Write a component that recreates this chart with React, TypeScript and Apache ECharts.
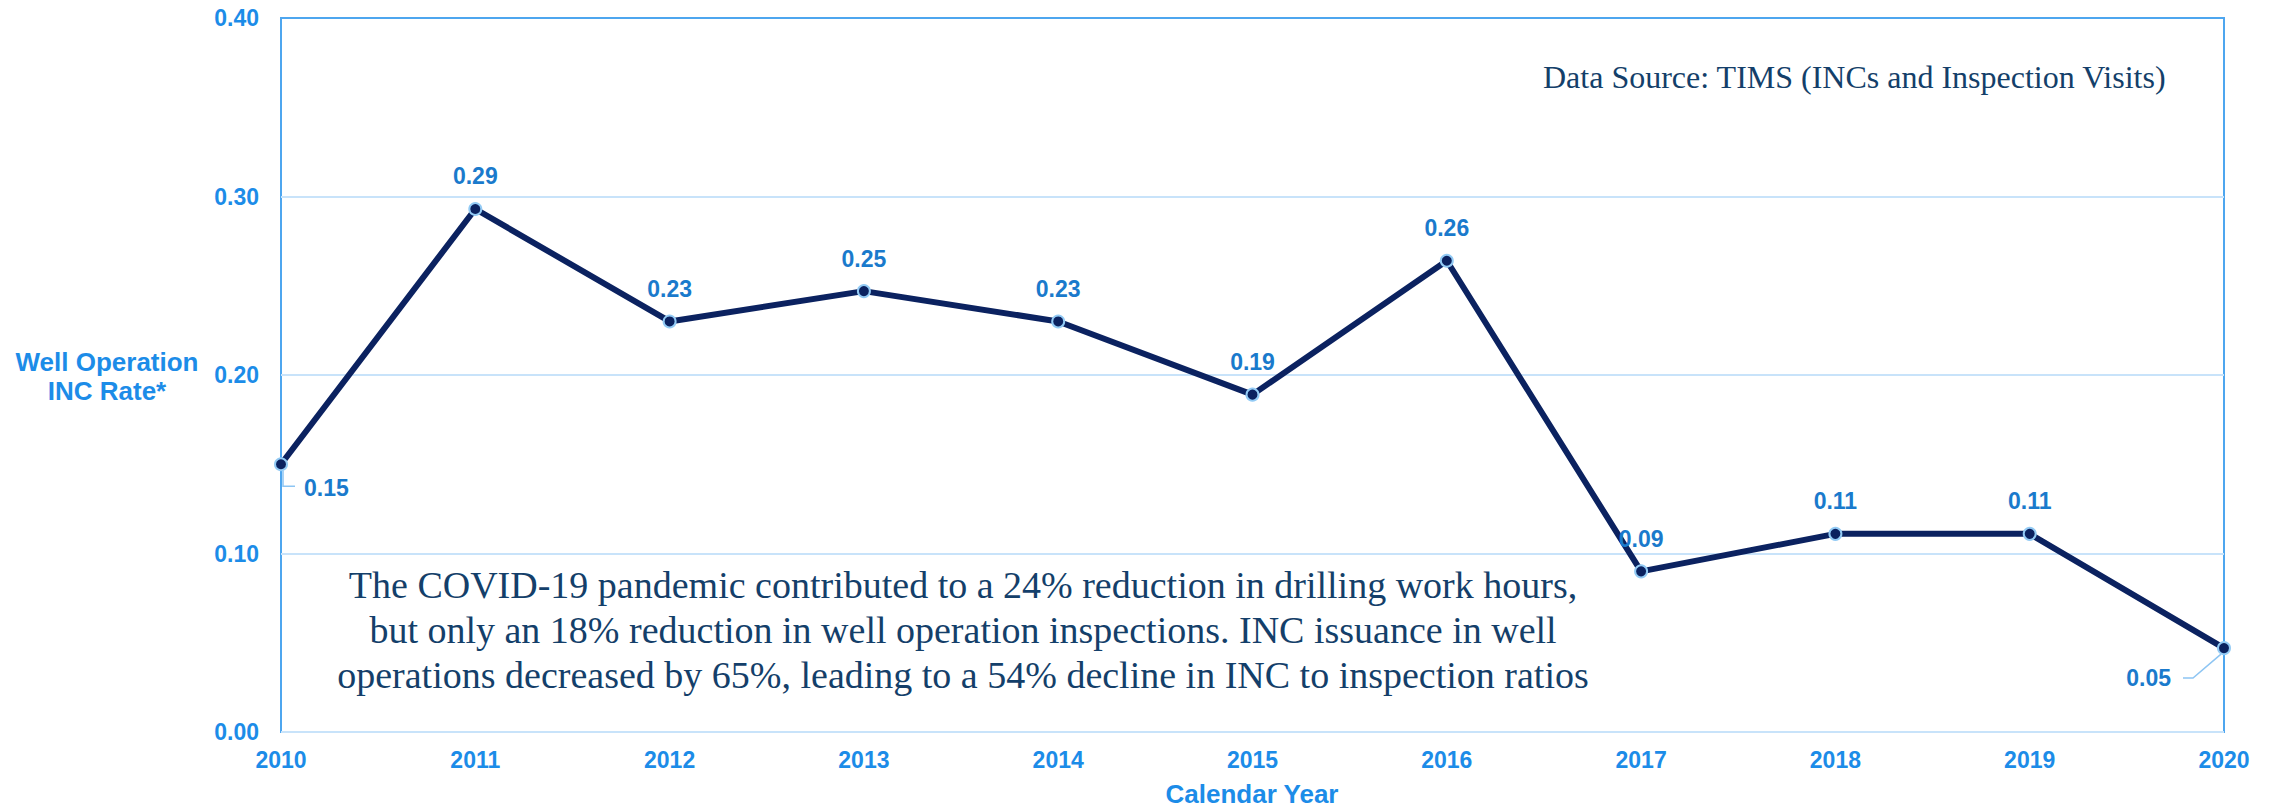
import React, { useEffect, useRef } from 'react';
import * as echarts from 'echarts';

const years = ['2010', '2011', '2012', '2013', '2014', '2015', '2016', '2017', '2018', '2019', '2020'];
const incRate = [0.150, 0.293, 0.230, 0.247, 0.230, 0.189, 0.264, 0.090, 0.111, 0.111, 0.047];
const yAxisTitle = ['Well Operation', 'INC Rate*'];
const xAxisTitle = 'Calendar Year';
const sourceNote = 'Data Source: TIMS (INCs and Inspection Visits)';
const covidNote = [
  'The COVID-19 pandemic contributed to a 24% reduction in drilling work hours,',
  'but only an 18% reduction in well operation inspections. INC issuance in well',
  'operations decreased by 65%, leading to a 54% decline in INC to inspection ratios',
];

const AXIS_BLUE = '#1c8ce8';
const LABEL_BLUE = '#1a7acc';
const NAVY = '#0b2260';
const NOTE_COLOR = '#143f6a';
const GUIDE = '#8dc5f3';
const SANS = '"Liberation Sans", Arial, sans-serif';
const SERIF = '"Liberation Serif", "Times New Roman", serif';

export default function App() {
  const ref = useRef<HTMLDivElement>(null);

  useEffect(() => {
    if (!ref.current) return;
    const chart = echarts.init(ref.current, undefined, { renderer: 'svg' });
    const last = incRate.length - 1;
    const seriesData = incRate.map((v, i) => {
      if (i === 0) return { value: v, label: { position: 'right', offset: [2, 24] } };
      if (i === last) return { value: v, label: { position: 'left', offset: [-32, 30] } };
      return v;
    });

    const baseGraphic = [
      {
        id: 'ytitle', type: 'text', x: 107, y: 376,
        style: {
          text: yAxisTitle.join('\n'), fill: AXIS_BLUE,
          font: `bold 26px ${SANS}`, align: 'center', verticalAlign: 'middle', lineHeight: 29,
        },
      },
      {
        id: 'xtitle', type: 'text', x: 1252, y: 794,
        style: {
          text: xAxisTitle, fill: AXIS_BLUE,
          font: `bold 26px ${SANS}`, align: 'center', verticalAlign: 'middle',
        },
      },
      {
        id: 'source', type: 'text', x: 1543, y: 77,
        style: {
          text: sourceNote, fill: NOTE_COLOR,
          font: `32px ${SERIF}`, align: 'left', verticalAlign: 'middle',
        },
      },
      {
        id: 'note', type: 'text', x: 963, y: 630,
        style: {
          text: covidNote.join('\n'), fill: NOTE_COLOR,
          font: `38px ${SERIF}`, align: 'center', verticalAlign: 'middle', lineHeight: 45,
        },
      },
    ];

    chart.setOption({
      animation: false,
      grid: {
        left: 281, right: 51, top: 18, bottom: 77,
        show: true, borderColor: '#4ea6ef', borderWidth: 2, backgroundColor: 'transparent',
      },
      xAxis: {
        type: 'category',
        boundaryGap: false,
        data: years,
        axisLine: { show: false },
        axisTick: { show: false },
        splitLine: { show: false },
        axisLabel: { color: AXIS_BLUE, fontSize: 23, fontWeight: 'bold', fontFamily: SANS, margin: 16 },
      },
      yAxis: {
        type: 'value',
        min: 0, max: 0.4, interval: 0.1,
        axisLine: { show: false },
        axisTick: { show: false },
        axisLabel: {
          color: AXIS_BLUE, fontSize: 23, fontWeight: 'bold', fontFamily: SANS, margin: 22,
          formatter: (v: number) => v.toFixed(2),
        },
        splitLine: { show: true, showMaxLine: false, lineStyle: { color: '#c8e3fa', width: 2 } },
      },
      series: [
        {
          type: 'line',
          data: seriesData,
          clip: false,
          symbol: 'circle',
          symbolSize: 12,
          lineStyle: { color: NAVY, width: 6 },
          itemStyle: { color: NAVY, borderColor: '#93cbf5', borderWidth: 2 },
          label: {
            show: true, position: 'top', distance: 14,
            color: LABEL_BLUE, fontSize: 23, fontWeight: 'bold', fontFamily: SANS,
            formatter: (p: any) => Number(p.value).toFixed(2),
          },
          z: 3,
        },
      ],
      graphic: baseGraphic,
    });

    // Leader lines for the two end labels, anchored at the data points through the chart's scales
    const p0 = chart.convertToPixel({ gridIndex: 0 }, [0, incRate[0]]) as number[];
    const pN = chart.convertToPixel({ gridIndex: 0 }, [last, incRate[last]]) as number[];
    chart.setOption({
      graphic: [
        ...baseGraphic,
        {
          id: 'guide0', type: 'polyline', z: 2,
          shape: { points: [[p0[0] + 2, p0[1] + 6], [p0[0] + 2, p0[1] + 22], [p0[0] + 14, p0[1] + 22]] },
          style: { stroke: GUIDE, lineWidth: 1.5, fill: 'none' },
        },
        {
          id: 'guideN', type: 'polyline', z: 2,
          shape: { points: [[pN[0] - 3, pN[1] + 6], [pN[0] - 31, pN[1] + 30], [pN[0] - 41, pN[1] + 30]] },
          style: { stroke: GUIDE, lineWidth: 1.5, fill: 'none' },
        },
      ],
    });
    return () => chart.dispose();
  }, []);

  return <div ref={ref} style={{ position: 'absolute', left: 0, top: 0, width: 2275, height: 809 }} />;
}
